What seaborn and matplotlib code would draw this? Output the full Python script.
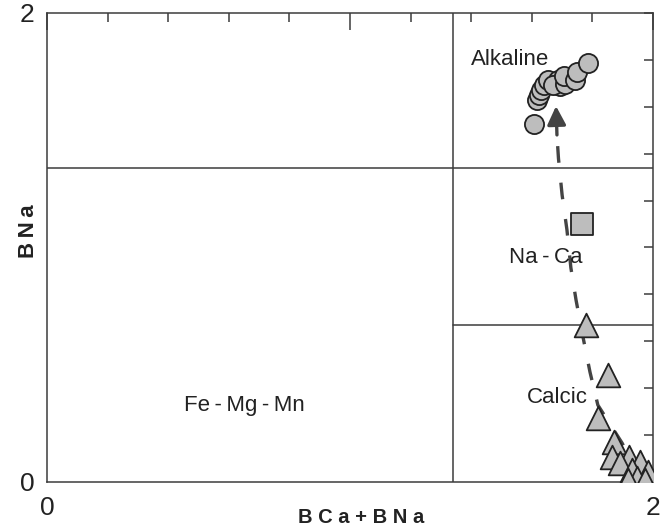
import numpy as np
import pandas as pd
import matplotlib
matplotlib.use("Agg")
import matplotlib.pyplot as plt
import seaborn as sns

# B-site cation sums of amphibole analyses (apfu)
alkaline_x = [1.607, 1.617, 1.624, 1.630, 1.640, 1.693, 1.653, 1.686, 1.670, 1.710, 1.706, 1.743, 1.749, 1.784]
alkaline_y = [1.527, 1.629, 1.650, 1.672, 1.693, 1.690, 1.714, 1.714, 1.693, 1.697, 1.731, 1.714, 1.748, 1.787]
naca_x = [1.765]
naca_y = [1.101]
calcic_x = [1.778, 1.852, 1.817, 1.872, 1.866, 1.922, 1.891, 1.957, 1.930, 1.984, 1.946, 1.974, 1.918]
calcic_y = [0.669, 0.456, 0.272, 0.172, 0.108, 0.108, 0.080, 0.087, 0.051, 0.044, 0.016, 0.009, 0.009]

# evolution trend (calcic -> alkaline)
trend_x = [1.957, 1.898, 1.818, 1.792, 1.769, 1.746, 1.729, 1.716, 1.700, 1.688, 1.683]
trend_y = [0.017, 0.166, 0.328, 0.469, 0.618, 0.776, 0.913, 1.075, 1.224, 1.380, 1.480]
trend_tip = (1.680, 1.603)

# classification boundaries
bca_bna_limit = 1.34
bna_alkaline = 1.34
bna_calcic = 0.67

groups = ["Alkaline"] * len(alkaline_x) + ["Na-Ca"] * len(naca_x) + ["Calcic"] * len(calcic_x)
df = pd.DataFrame({
    "BCa+BNa": alkaline_x + naca_x + calcic_x,
    "BNa": alkaline_y + naca_y + calcic_y,
    "group": groups,
})

sns.set_style("white")
plt.rcParams["font.family"] = ["Liberation Sans", "DejaVu Sans"]

line_col = "#3c3c3c"
fig = plt.figure(figsize=(6.61, 5.30), dpi=100)
ax = fig.add_axes([0.0711, 0.0906, 0.9168, 0.8849])

# field boundaries
ax.axvline(bca_bna_limit, color=line_col, lw=1.1, zorder=1)
ax.axhline(bna_alkaline, color=line_col, lw=1.1, zorder=1)
ax.plot([bca_bna_limit, 2.0], [bna_calcic, bna_calcic], color=line_col, lw=1.1, zorder=1)

# trend arrow
ax.plot(trend_x, trend_y, color="#444444", lw=2.4, dashes=(5, 6), zorder=2,
        solid_capstyle="butt", dash_capstyle="butt")
ax.annotate("", xy=trend_tip, xytext=(trend_x[-1], trend_y[-1]),
            arrowprops=dict(arrowstyle="-|>", mutation_scale=28, color="#444444",
                            lw=2.4, shrinkA=0, shrinkB=0), zorder=2)

sizes = {"Alkaline": 190, "Na-Ca": 250, "Calcic": 290}
for g, m in [("Alkaline", "o"), ("Na-Ca", "s"), ("Calcic", "^")]:
    sub = df[df["group"] == g]
    sns.scatterplot(data=sub, x="BCa+BNa", y="BNa", marker=m, s=sizes[g],
                    color="#bdbdbd", edgecolor="#222222", linewidth=1.3,
                    ax=ax, zorder=3, legend=False)

ax.set_xlim(0, 2)
ax.set_ylim(0, 2)
ax.set_xticks([0, 1, 2])
ax.set_xticklabels(["0", "", "2"])
ax.set_xticks(np.arange(0.2, 2.0, 0.2), minor=True)
ax.set_yticks([0, 2])
ax.set_yticklabels(["0", "2"])
ax.set_yticks(np.arange(0.2, 2.0, 0.2), minor=True)
ax.tick_params(axis="both", which="both", direction="in", top=True, right=True,
               color=line_col, width=1.1, labelsize=19, labelcolor="#222222")
ax.tick_params(axis="both", which="minor", length=6.5)
ax.tick_params(axis="x", which="major", length=12, pad=10)
ax.tick_params(axis="y", which="major", length=6.5, pad=9)
for s in ax.spines.values():
    s.set_color(line_col)
    s.set_linewidth(1.1)

ax.set_xlabel("B C a + B N a", fontsize=14.5, fontweight="bold", color="#222222")
ax.set_ylabel("B\u2009N\u2009a", fontsize=16, fontweight="bold", color="#222222")
ax.xaxis.set_label_coords(0.518, -0.055)
ax.yaxis.set_label_coords(-0.014, 0.535)

txt = dict(fontsize=16, color="#222222", ha="center", va="center")
ax.text(1.528, 1.800, "Alkaline", **txt)
ax.text(1.647, 0.959, "Na\u2009-\u2009Ca", **txt)
ax.text(1.683, 0.362, "Calcic", **txt)
ax.text(0.650, 0.328, "Fe\u2009-\u2009Mg\u2009-\u2009Mn", **txt)

fig.savefig("out.png", dpi=100)
